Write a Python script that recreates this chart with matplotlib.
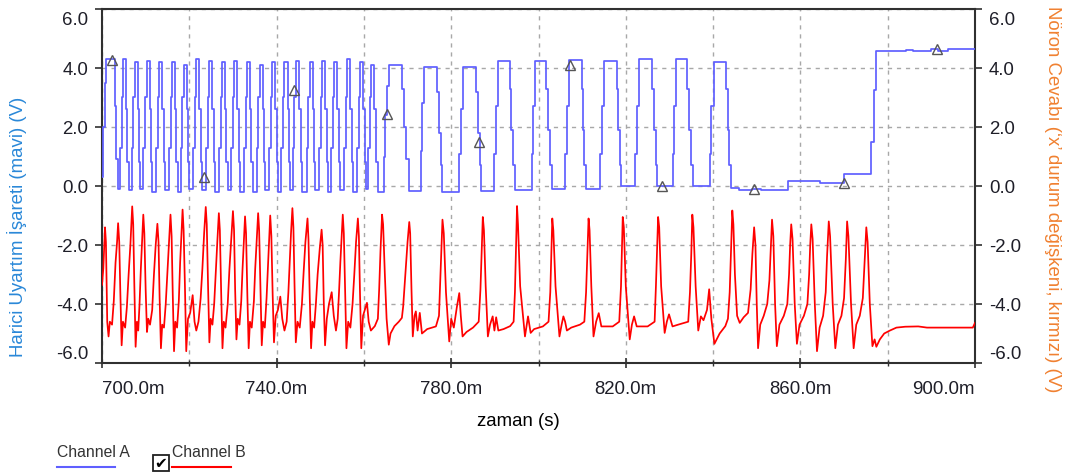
import matplotlib
matplotlib.use("Agg")
import matplotlib.pyplot as plt
import matplotlib.transforms as mtransforms
from matplotlib.lines import Line2D
from matplotlib.patches import Rectangle

plt.rcParams['font.family'] = ['Liberation Sans', 'DejaVu Sans']
plt.rcParams['axes.unicode_minus'] = False

# axis ticks (time in ms, voltage in V)
x_major = [700, 740, 780, 820, 860, 900]
x_minor = [720, 760, 800, 840, 880]
y_ticks = [-6, -4, -2, 0, 2, 4, 6]

# Channel A: external stimulus, (time ms, V) step vertices
channel_a = [
    (700.0, 0.3), (700.3, 2.0), (700.6, 3.5), (700.9, 4.3), (703.0, 2.7), (703.3, 0.9), (703.6, -0.1),
    (704.1, 1.3), (704.5, 3.0), (704.8, 4.3), (705.5, 2.6), (705.8, 0.8), (706.1, -0.15),
    (706.8, 1.3), (707.2, 3.0), (707.5, 4.2), (708.2, 2.6), (708.5, 0.8), (708.8, -0.1),
    (709.5, 1.3), (709.9, 3.0), (710.2, 4.25), (710.9, 2.6), (711.2, 0.8), (711.5, -0.2),
    (712.4, 1.3), (712.8, 3.0), (713.1, 4.2), (713.8, 2.6), (714.1, 0.8), (714.4, -0.15),
    (715.3, 1.3), (715.7, 3.0), (716.0, 4.2), (716.7, 2.6), (717.0, 0.8), (717.3, -0.2),
    (718.0, 1.3), (718.4, 3.0), (718.7, 4.1), (719.4, 2.6), (719.7, 0.8), (720.0, -0.1),
    (720.9, 1.3), (721.3, 3.0), (721.6, 4.3), (722.3, 2.6), (722.6, 0.8), (722.9, -0.15),
    (723.9, 1.3), (724.3, 3.0), (724.6, 4.25), (725.3, 2.6), (725.6, 0.8), (725.9, -0.2),
    (726.8, 1.3), (727.2, 3.0), (727.5, 4.2), (728.2, 2.6), (728.5, 0.8), (728.8, -0.15),
    (729.6, 1.3), (730.0, 3.0), (730.3, 4.25), (731.0, 2.6), (731.3, 0.8), (731.6, -0.2),
    (732.5, 1.3), (732.9, 3.0), (733.2, 4.2), (733.9, 2.6), (734.2, 0.8), (734.5, -0.2),
    (735.4, 1.3), (735.8, 3.0), (736.1, 4.1), (736.8, 2.6), (737.1, 0.8), (737.4, -0.15),
    (738.3, 1.3), (738.7, 3.0), (739.0, 4.2), (739.7, 2.6), (740.0, 0.8), (740.3, -0.2),
    (741.1, 1.3), (741.5, 3.0), (741.8, 4.2), (742.5, 2.6), (742.8, 0.8), (743.1, -0.15),
    (743.8, 1.3), (744.1, 3.0), (744.5, 4.25), (745.2, 2.6), (745.5, 0.8), (745.8, -0.2),
    (746.9, 1.3), (747.3, 3.0), (747.6, 4.2), (748.3, 2.6), (748.6, 0.8), (748.9, -0.15),
    (749.8, 1.3), (750.2, 3.0), (750.5, 4.25), (751.2, 2.6), (751.5, 0.8), (751.8, -0.2),
    (752.5, 1.3), (752.9, 3.0), (753.2, 4.2), (753.9, 2.6), (754.2, 0.8), (754.5, -0.15),
    (755.5, 1.3), (755.9, 3.0), (756.2, 4.3), (756.9, 2.6), (757.2, 0.8), (757.5, -0.2),
    (758.5, 1.3), (758.9, 3.0), (759.2, 4.2), (759.9, 2.6), (760.2, 0.8), (760.5, -0.1),
    (761.0, 1.3), (761.3, 3.0), (761.6, 4.1), (762.4, 2.6), (762.8, 0.8), (763.3, -0.2),
    (764.5, 1.0), (764.9, 2.4), (765.3, 3.4), (765.7, 4.1), (768.8, 3.3), (769.2, 2.0), (769.7, 0.9), (770.3, -0.18),
    (773.0, 1.2), (773.4, 2.8), (773.8, 4.05), (776.8, 3.2), (777.2, 1.8), (777.6, 0.7), (778.0, -0.22),
    (781.9, 1.1), (782.3, 2.6), (782.8, 4.05), (785.7, 3.2), (786.1, 1.8), (786.5, 0.7), (786.9, -0.18),
    (789.9, 1.1), (790.3, 2.7), (790.8, 4.25), (793.4, 3.3), (793.8, 1.9), (794.2, 0.7), (794.6, -0.13),
    (798.4, 1.1), (798.8, 2.7), (799.2, 4.25), (801.8, 3.3), (802.2, 1.9), (802.6, 0.7), (803.0, -0.1),
    (806.1, 1.1), (806.5, 2.7), (806.9, 4.28), (809.9, 3.3), (810.2, 1.9), (810.5, 0.7), (810.8, -0.1),
    (814.2, 1.1), (814.5, 2.7), (814.9, 4.25), (818.0, 3.3), (818.3, 1.9), (818.6, 0.7), (818.9, 0.01),
    (822.2, 1.1), (822.6, 2.7), (823.0, 4.3), (826.1, 3.3), (826.5, 1.9), (826.9, 0.7), (827.2, 0.0),
    (830.7, 1.1), (831.1, 2.7), (831.5, 4.3), (834.1, 3.3), (834.5, 1.9), (834.9, 0.7), (835.3, 0.0),
    (839.2, 1.1), (839.6, 2.7), (840.3, 4.2), (843.0, 3.3), (843.3, 1.9), (843.6, 0.7), (844.0, -0.07),
    (846.0, -0.13), (849.0, -0.1), (851.0, -0.15), (857.2, 0.16), (864.5, 0.11), (869.9, 0.42),
    (876.2, 1.5), (876.8, 3.26), (877.3, 4.59), (884.3, 4.62), (885.8, 4.59), (890.0, 4.65),
    (891.5, 4.59), (893.8, 4.65), (900.5, 4.65),
]

# Channel B: neuron response, (time ms, V) vertices
channel_b = [
    (700.0, -3.35), (700.3, -2.8), (700.69, -1.4), (700.9, -1.9), (701.2, -4.6), (701.5, -5.1), (701.8, -4.6),
    (702.3, -4.7), (702.7, -3.9), (703.1, -2.6), (703.45, -1.9), (703.69, -1.26), (703.95, -1.9), (704.2, -3.6),
    (704.5, -5.4), (704.8, -4.6), (705.3, -4.8), (705.7, -4.1), (706.1, -3.0), (706.5, -2.0), (706.92, -0.69),
    (707.15, -1.3), (707.4, -3.3), (707.7, -5.45), (708.0, -4.6), (708.3, -4.9), (708.6, -4.0), (708.9, -2.8),
    (709.2, -1.8), (709.46, -0.97), (709.7, -1.6), (710.0, -3.5), (710.3, -4.95), (710.6, -4.5), (711.0, -4.7),
    (711.5, -4.2), (711.9, -3.0), (712.3, -2.0), (712.69, -1.28), (712.95, -1.9), (713.2, -3.8), (713.5, -5.5),
    (713.8, -4.7), (714.2, -4.8), (714.6, -4.0), (715.0, -2.9), (715.4, -1.8), (715.69, -0.97), (715.95, -1.7),
    (716.2, -3.6), (716.5, -5.6), (716.8, -4.6), (717.2, -4.8), (717.6, -3.9), (717.9, -2.6), (718.2, -1.6),
    (718.46, -0.80), (718.7, -1.5), (719.0, -3.4), (719.3, -5.6), (719.7, -4.5), (720.2, -4.3), (720.77, -3.7),
    (721.2, -4.6), (721.6, -4.9), (722.1, -4.6), (722.6, -3.8), (723.0, -2.8), (723.4, -1.6), (723.77, -0.71),
    (724.0, -1.3), (724.3, -3.4), (724.6, -5.3), (724.9, -4.5), (725.3, -4.7), (725.7, -4.0), (726.1, -2.8),
    (726.45, -1.8), (726.77, -0.92), (727.0, -1.5), (727.3, -3.6), (727.6, -5.5), (727.9, -4.6), (728.3, -4.8),
    (728.8, -4.0), (729.2, -2.8), (729.6, -1.8), (730.0, -0.85), (730.25, -1.5), (730.5, -3.5), (730.8, -5.2),
    (731.1, -4.5), (731.5, -4.7), (731.9, -3.9), (732.2, -2.8), (732.5, -1.9), (732.77, -1.03), (733.0, -1.6),
    (733.3, -3.7), (733.6, -5.5), (733.9, -4.6), (734.3, -4.8), (734.8, -3.9), (735.1, -2.8), (735.45, -1.8),
    (735.77, -0.92), (736.0, -1.5), (736.3, -3.5), (736.6, -5.4), (736.9, -4.6), (737.3, -4.8), (737.7, -3.8),
    (738.0, -2.8), (738.3, -1.8), (738.54, -1.0), (738.8, -1.7), (739.1, -3.7), (739.4, -5.3), (739.8, -4.4),
    (740.3, -4.2), (740.85, -3.75), (741.3, -4.5), (741.8, -4.9), (742.3, -4.6), (742.7, -3.6), (743.0, -2.6),
    (743.3, -1.6), (743.62, -0.75), (743.85, -1.4), (744.1, -3.3), (744.4, -5.3), (744.8, -4.6), (745.3, -4.8),
    (745.8, -4.0), (746.2, -2.9), (746.6, -1.9), (747.08, -1.1), (747.3, -1.8), (747.6, -3.8), (747.9, -5.5),
    (748.2, -4.6), (748.6, -4.8), (749.0, -4.0), (749.4, -3.0), (749.9, -2.1), (750.31, -1.48), (750.55, -2.0),
    (750.8, -3.9), (751.1, -5.4), (751.5, -4.5), (752.0, -4.0), (752.62, -3.6), (753.1, -4.4), (753.6, -4.9),
    (754.0, -4.5), (754.3, -3.6), (754.6, -2.6), (754.9, -1.7), (755.16, -0.97), (755.4, -1.6), (755.7, -3.5),
    (756.0, -5.5), (756.4, -4.6), (756.9, -4.8), (757.4, -4.0), (757.8, -3.0), (758.2, -1.9), (758.62, -1.1),
    (758.85, -1.7), (759.1, -3.6), (759.4, -5.5), (759.8, -4.4), (760.2, -4.2), (760.7, -3.96), (761.1, -4.6),
    (761.6, -4.9), (762.5, -4.75), (763.2, -4.5), (763.5, -3.5), (763.8, -2.2), (764.16, -0.97), (764.4, -1.3),
    (764.8, -3.0), (765.2, -4.5), (765.7, -5.38), (766.1, -5.0), (767.0, -4.75), (768.0, -4.6), (768.7, -4.47),
    (769.0, -4.08), (769.5, -3.0), (770.0, -1.9), (770.39, -1.22), (770.6, -1.6), (770.9, -3.5), (771.2, -5.1),
    (771.6, -4.4), (771.9, -4.25), (772.3, -4.9), (772.8, -4.3), (773.3, -5.0), (774.5, -4.85), (776.5, -4.76),
    (777.2, -4.4), (777.5, -3.2), (777.8, -2.0), (778.0, -1.14), (778.3, -1.6), (778.8, -3.6), (779.55, -5.27),
    (780.0, -4.5), (780.6, -4.8), (781.3, -4.1), (781.85, -3.63), (782.2, -4.4), (782.6, -5.1), (783.5, -4.95),
    (785.0, -4.8), (786.3, -4.6), (786.7, -3.5), (787.0, -2.2), (787.24, -1.05), (787.5, -1.5), (787.9, -3.4),
    (788.4, -5.1), (788.9, -4.7), (789.5, -4.42), (789.9, -4.9), (790.3, -4.45), (790.8, -4.9), (792.0, -4.85),
    (793.5, -4.75), (794.3, -4.6), (794.6, -3.6), (794.85, -2.0), (795.08, -0.68), (795.3, -1.3), (795.8, -3.4),
    (796.9, -5.1), (797.6, -4.42), (798.2, -4.98), (799.0, -4.85), (801.0, -4.76), (802.3, -4.6), (802.7, -3.6),
    (802.95, -2.2), (803.16, -1.1), (803.4, -1.5), (803.9, -3.4), (804.8, -5.1), (805.3, -4.7), (805.7, -4.42),
    (806.1, -4.6), (806.5, -4.9), (807.5, -4.8), (809.5, -4.7), (810.5, -4.6), (810.9, -3.6), (811.2, -2.3),
    (811.47, -1.1), (811.7, -1.5), (812.1, -3.4), (812.6, -5.1), (813.2, -4.6), (813.8, -4.31), (814.4, -4.76),
    (817.0, -4.76), (818.5, -4.6), (818.9, -3.4), (819.1, -2.2), (819.3, -1.05), (819.55, -1.4), (820.0, -3.4),
    (820.9, -5.2), (821.4, -4.7), (821.9, -4.42), (822.5, -4.76), (825.0, -4.76), (826.6, -4.6), (826.9, -3.4),
    (827.15, -2.2), (827.4, -1.05), (827.65, -1.4), (828.1, -3.4), (828.9, -4.98), (829.4, -4.6), (829.9, -4.35),
    (830.7, -4.76), (832.0, -4.7), (834.3, -4.6), (834.7, -3.6), (835.0, -2.3), (835.24, -0.97), (835.5, -1.4),
    (836.0, -3.4), (836.6, -4.9), (837.2, -4.42), (837.8, -4.55), (838.6, -4.2), (839.1, -3.5), (839.6, -4.5),
    (840.3, -5.35), (841.5, -5.0), (842.8, -4.75), (843.4, -4.5), (843.8, -3.6), (844.1, -2.2), (844.4, -0.83),
    (844.65, -1.3), (845.0, -3.0), (845.5, -4.4), (846.1, -4.64), (847.0, -4.45), (848.0, -4.3), (848.6, -3.5),
    (849.0, -2.3), (849.4, -1.4), (849.7, -2.0), (850.0, -4.0), (850.3, -5.5), (850.8, -4.7), (851.6, -4.4),
    (852.4, -4.0), (852.9, -3.2), (853.2, -2.2), (853.5, -1.14), (853.8, -1.7), (854.2, -4.0), (854.6, -5.43),
    (855.2, -4.7), (856.2, -4.4), (857.0, -4.0), (857.4, -3.0), (857.65, -2.0), (857.9, -1.3), (858.2, -1.8),
    (858.7, -4.0), (859.2, -5.35), (859.8, -4.7), (860.8, -4.4), (861.6, -4.0), (862.0, -3.0), (862.25, -2.0),
    (862.5, -1.3), (862.8, -1.8), (863.3, -4.0), (863.8, -5.6), (864.4, -4.8), (865.2, -4.4), (865.8, -3.6),
    (866.1, -2.4), (866.5, -1.2), (866.8, -1.7), (867.4, -4.0), (868.0, -5.5), (868.6, -4.7), (869.4, -4.4),
    (870.0, -3.8), (870.4, -2.5), (870.7, -1.2), (871.0, -1.7), (871.6, -4.0), (872.2, -5.5), (872.8, -4.7),
    (873.6, -4.4), (874.3, -3.8), (874.7, -2.6), (875.1, -1.4), (875.4, -1.9), (875.9, -4.0), (876.5, -5.43),
    (877.0, -5.2), (877.4, -5.45), (878.2, -5.2), (879.2, -5.0), (880.5, -4.9), (882.0, -4.8), (884.0, -4.77),
    (887.0, -4.76), (889.0, -4.8), (893.0, -4.8), (899.5, -4.8), (900.0, -4.64),
]

# ruler markers on channel A
marker_t = [702.3, 723.3, 744.1, 765.3, 786.3, 807.3, 828.3, 849.3, 870.1, 891.3]
marker_v = [4.28, 0.31, 3.26, 2.45, 1.5, 4.1, 0.0, -0.1, 0.1, 4.65]

W, H = 1079, 473
fig = plt.figure(figsize=(W / 100, H / 100), dpi=100)
ax = fig.add_axes([102 / W, 1 - 363 / H, (975 - 102) / W, (363 - 9) / H])

ta, va = zip(*channel_a)
ax.plot(ta, va, drawstyle='steps-post', color='#5f5fff', lw=1.25, zorder=3)
tb, vb = zip(*channel_b)
ax.plot(tb, vb, color='#ff0000', lw=1.25, zorder=3)
ax.plot(marker_t, marker_v, ls='none', marker='^', ms=6.5, mfc='none',
        mec='#555555', mew=1.0, zorder=4)

ax.set_xlim(700, 900)
ax.set_ylim(-6, 6)
ax.set_xticks(x_major)
ax.set_xticks(x_minor, minor=True)
ax.set_xticklabels([f"{v:.1f}m" for v in x_major])
ax.set_yticks(y_ticks)
ax.set_yticklabels([f"{v:.1f}" for v in y_ticks])

grid_kw = dict(color='#a8a8a8', lw=1.0, ls=(0, (3, 3.5)))
ax.grid(True, which='both', axis='x', **grid_kw)
ax.grid(True, which='major', axis='y', **grid_kw)
ax.set_axisbelow(True)

for s in ax.spines.values():
    s.set_color('#303030')
    s.set_linewidth(1.5)

tick_color = '#1e1e28'
ax.tick_params(axis='x', which='major', direction='inout', length=7, width=1.2,
               color='#303030', labelsize=13.4, labelcolor=tick_color, pad=9.5)
ax.tick_params(axis='x', which='minor', direction='inout', length=5, width=1.0,
               color='#303030')
ax.tick_params(axis='y', which='major', direction='out', length=5, width=1.2,
               color='#303030', labelsize=13.4, labelcolor=tick_color, pad=5,
               left=True, right=True, labelleft=True, labelright=True)

# keep the end labels inside the plot edges
xt = ax.xaxis.get_major_ticks()
xt[0].label1.set_horizontalalignment('left')
xt[-1].label1.set_horizontalalignment('right')
yt = ax.yaxis.get_major_ticks()
down = mtransforms.ScaledTranslation(0, -2 / 72, fig.dpi_scale_trans)
for lab in (yt[-1].label1, yt[-1].label2):
    lab.set_verticalalignment('top')
    lab.set_transform(lab.get_transform() + down)
for lab in (yt[0].label1, yt[0].label2):
    lab.set_verticalalignment('bottom')

fig.text(17 / W, 1 - 227 / H, "Harici Uyartım İşareti (mavi) (V)", rotation=90,
         ha='center', va='center', color='#2a88d8', fontsize=13.4)
fig.text(1052 / W, 1 - 199 / H, "Nöron Cevabı (‘x’ durum değişkeni, kırmızı) (V)",
         rotation=270, ha='center', va='center', color='#f08030', fontsize=13.4)
fig.text(518 / W, 1 - 421 / H, "zaman (s)", ha='center', va='center',
         color='black', fontsize=13.4)

# legend strip at the bottom
fig.text(57 / W, 1 - 452 / H, "Channel A", ha='left', va='center',
         color='#333333', fontsize=11.3)
fig.add_artist(Line2D([57 / W, 115 / W], [1 - 467 / H, 1 - 467 / H],
                      color='#5f5fff', lw=1.5))
fig.add_artist(Rectangle((153 / W, 1 - 471 / H), 16 / W, 16 / H, fill=False,
                         ec='#202020', lw=1.3))
fig.text(161 / W, 1 - 463 / H, "✔", ha='center', va='center', color='black',
         fontsize=11, family='DejaVu Sans')
fig.text(172 / W, 1 - 452 / H, "Channel B", ha='left', va='center',
         color='#333333', fontsize=11.3)
fig.add_artist(Line2D([172 / W, 231 / W], [1 - 467 / H, 1 - 467 / H],
                      color='#ff0000', lw=1.5))

fig.savefig("out.png", dpi=100)
